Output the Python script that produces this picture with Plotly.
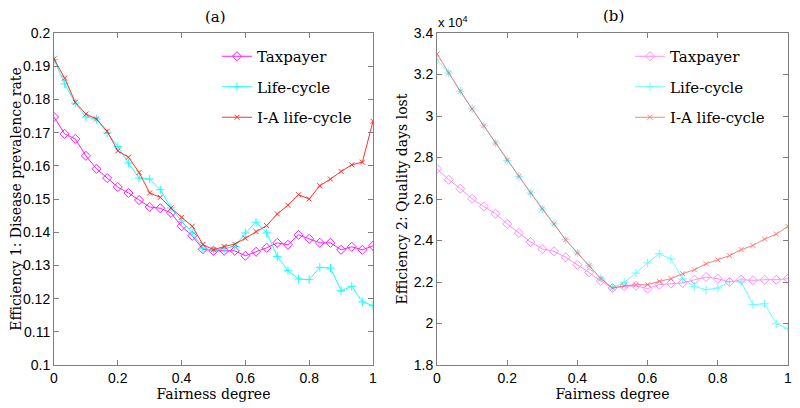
import plotly.graph_objects as go

x = [i / 30 for i in range(31)]

# Panel (a): disease prevalence rate
tax_a = [0.1747, 0.1696, 0.1681, 0.1630, 0.1591, 0.1563, 0.1536, 0.1518, 0.1497, 0.1476,
         0.1472, 0.1458, 0.1418, 0.1389, 0.1349, 0.1344, 0.1344, 0.1344, 0.1329, 0.1341,
         0.1353, 0.1368, 0.1362, 0.1392, 0.1380, 0.1368, 0.1368, 0.1347, 0.1356, 0.1347, 0.1359]
life_a = [0.1920, 0.1847, 0.1789, 0.1747, 0.1741, 0.1699, 0.1658, 0.1608, 0.1563, 0.1560,
          0.1528, 0.1473, 0.1433, 0.1398, 0.1352, 0.1345, 0.1350, 0.1357, 0.1398, 0.1430,
          0.1398, 0.1327, 0.1284, 0.1259, 0.1257, 0.1294, 0.1292, 0.1224, 0.1237, 0.1190, 0.1179]
ia_a = [0.1922, 0.1864, 0.1791, 0.1756, 0.1741, 0.1704, 0.1645, 0.1626, 0.1580, 0.1518,
        0.1505, 0.1473, 0.1445, 0.1418, 0.1363, 0.1347, 0.1357, 0.1364, 0.1382, 0.1402,
        0.1420, 0.1455, 0.1481, 0.1513, 0.1500, 0.1540, 0.1560, 0.1583, 0.1603, 0.1611, 0.1734]

# Panel (b): quality days lost (x 10^4)
tax_b = [2.745, 2.693, 2.650, 2.601, 2.564, 2.529, 2.480, 2.436, 2.393, 2.359,
         2.348, 2.319, 2.283, 2.246, 2.205, 2.171, 2.179, 2.182, 2.168, 2.187,
         2.192, 2.195, 2.211, 2.224, 2.216, 2.200, 2.211, 2.208, 2.211, 2.211, 2.216]
life_b = [3.271, 3.207, 3.119, 3.034, 2.953, 2.870, 2.786, 2.709, 2.629, 2.552,
          2.480, 2.404, 2.340, 2.279, 2.218, 2.171, 2.198, 2.243, 2.292, 2.336,
          2.311, 2.214, 2.179, 2.163, 2.171, 2.203, 2.200, 2.091, 2.095, 1.999, 1.975]
ia_b = [3.299, 3.207, 3.119, 3.034, 2.953, 2.870, 2.786, 2.709, 2.629, 2.552,
        2.480, 2.404, 2.340, 2.279, 2.216, 2.171, 2.182, 2.187, 2.187, 2.203,
        2.216, 2.240, 2.259, 2.288, 2.307, 2.327, 2.356, 2.376, 2.407, 2.431, 2.468]

names = ["Taxpayer", "Life-cycle", "I-A life-cycle"]
x_ticks = [0, 0.2, 0.4, 0.6, 0.8, 1]
x_ticklabels = ["0", "0.2", "0.4", "0.6", "0.8", "1"]
ya_ticks = [0.1, 0.11, 0.12, 0.13, 0.14, 0.15, 0.16, 0.17, 0.18, 0.19, 0.2]
ya_ticklabels = ["0.1", "0.11", "0.12", "0.13", "0.14", "0.15", "0.16", "0.17", "0.18", "0.19", "0.2"]
yb_ticks = [1.8, 2.0, 2.2, 2.4, 2.6, 2.8, 3.0, 3.2, 3.4]
yb_ticklabels = ["1.8", "2", "2.2", "2.4", "2.6", "2.8", "3", "3.2", "3.4"]

SERIF = "DejaVu Serif"
SANS = "Liberation Sans"

colors_a = ["#ff00ff", "#00ffff", "#ff1a1a"]
colors_b = ["#ff66ff", "#33ffff", "#ff5555"]
symbols = ["diamond-open", "cross-thin-open", "x-thin-open"]
msize = [7, 6, 5]

# the page has an 8px body margin; figure sized to fit the 800x408 window
W, H = 792, 400
OFF = 8


def px(v):
    return (v - OFF) / W


def py(v):
    return 1 - (v - OFF) / H


fig = go.Figure()
for k, (ys, ysb) in enumerate(zip([tax_a, life_a, ia_a], [tax_b, life_b, ia_b])):
    fig.add_trace(go.Scatter(
        x=x, y=ys, name=names[k], mode="lines+markers", xaxis="x", yaxis="y",
        line=dict(color=colors_a[k], width=1),
        marker=dict(symbol=symbols[k], size=msize[k], color=colors_a[k], line=dict(width=1, color=colors_a[k])),
        legend="legend", legendgroup="a%d" % k, opacity=0.9))
    fig.add_trace(go.Scatter(
        x=x, y=ysb, name=names[k], mode="lines+markers", xaxis="x2", yaxis="y2",
        line=dict(color=colors_b[k], width=1),
        marker=dict(symbol=symbols[k], size=msize[k], color=colors_b[k], line=dict(width=1, color=colors_b[k])),
        legend="legend2", legendgroup="b%d" % k, opacity=0.75))

axis_common = dict(showline=True, mirror="ticks", ticks="inside", ticklen=5,
                   linecolor="#7f7f7f", tickcolor="#7f7f7f", linewidth=1,
                   showgrid=False, zeroline=False, automargin=False,
                   tickfont=dict(family=SANS, size=14, color="black"))

title_font = dict(family=SERIF, size=14, color="black")

fig.update_layout(
    width=W, height=H,
    margin=dict(l=0, r=0, t=0, b=0, autoexpand=False),
    paper_bgcolor="white", plot_bgcolor="white",
    showlegend=True,
    xaxis=dict(domain=[px(54), px(373)], range=[0, 1], tickvals=x_ticks, ticktext=x_ticklabels,
               title=dict(text="Fairness degree", font=title_font, standoff=0),
               anchor="y", **axis_common),
    yaxis=dict(domain=[py(365), py(33)], range=[0.1, 0.2], tickvals=ya_ticks, ticktext=ya_ticklabels,
               title=dict(text="Efficiency 1: Disease prevalence rate", font=title_font, standoff=2),
               anchor="x", **axis_common),
    xaxis2=dict(domain=[px(437), px(788)], range=[0, 1], tickvals=x_ticks, ticktext=x_ticklabels,
                title=dict(text="Fairness degree", font=title_font, standoff=0),
                anchor="y2", **axis_common),
    yaxis2=dict(domain=[py(365), py(33)], range=[1.8, 3.4], tickvals=yb_ticks, ticktext=yb_ticklabels,
                title=dict(text="Efficiency 2: Quality days lost", font=title_font, standoff=2),
                anchor="x2", **axis_common),
    legend=dict(x=px(217), y=py(40), xanchor="left", yanchor="top", bgcolor="rgba(0,0,0,0)", itemwidth=30,
                font=dict(family=SERIF, size=15, color="black"), traceorder="grouped", tracegroupgap=8),
    legend2=dict(x=px(630), y=py(40), xanchor="left", yanchor="top", bgcolor="rgba(0,0,0,0)", itemwidth=30,
                 font=dict(family=SERIF, size=15, color="black"), traceorder="grouped", tracegroupgap=8),
    annotations=[
        dict(text="(a)", x=px(215), y=py(17), xref="paper", yref="paper", xanchor="center", yanchor="middle",
             showarrow=False, font=dict(family=SERIF, size=15, color="black")),
        dict(text="(b)", x=px(613), y=py(16), xref="paper", yref="paper", xanchor="center", yanchor="middle",
             showarrow=False, font=dict(family=SERIF, size=15, color="black")),
        dict(text="x 10<sup>4</sup>", x=px(436), y=py(22), xref="paper", yref="paper", xanchor="left", yanchor="middle",
             showarrow=False, font=dict(family=SANS, size=13, color="black")),
    ],
)

fig.write_html("out.html")
